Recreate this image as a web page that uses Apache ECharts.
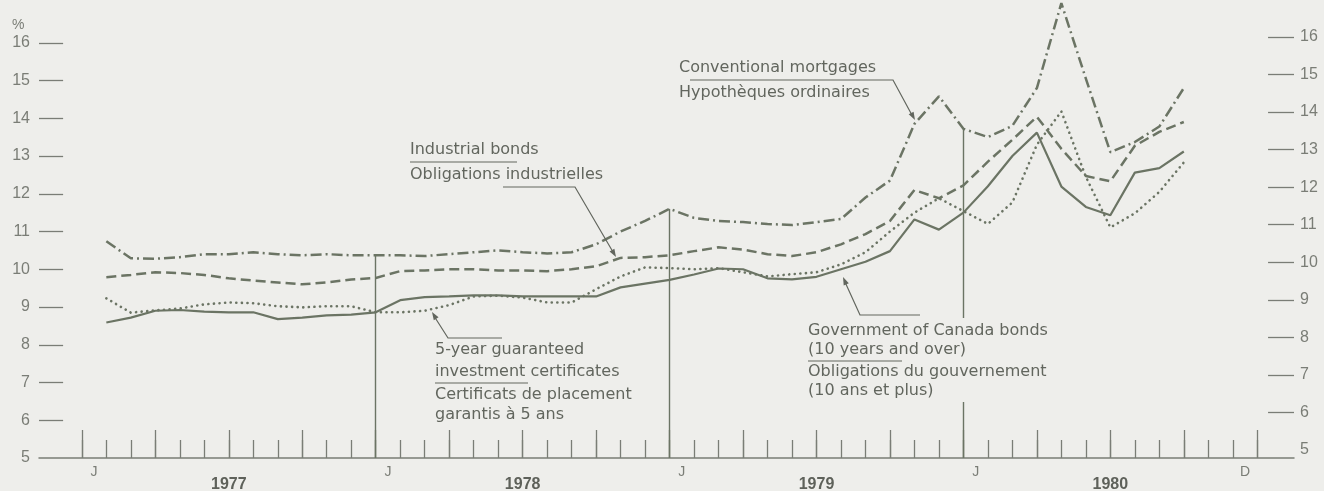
<!DOCTYPE html>
<html>
<head>
<meta charset="utf-8">
<script src="https://cdn.jsdelivr.net/npm/echarts@6/dist/echarts.min.js"></script>
<style>
html,body{margin:0;padding:0;background:#eeeeeb;}
#main{width:1324px;height:491px;}
</style>
</head>
<body>
<div id="main"></div>
<script>
// 数据：1977年1月 - 1980年9月，每月一个点（画在月末刻度上）
const years = ['1977', '1978', '1979', '1980'];
const monthLetters = ['J', 'J', 'J', 'J', 'D'];
const leftTicks = [5, 6, 7, 8, 9, 10, 11, 12, 13, 14, 15, 16];
const rightTicks = [5, 6, 7, 8, 9, 10, 11, 12, 13, 14, 15, 16];

const mortgages = [10.74, 10.29, 10.28, 10.32, 10.40, 10.40, 10.45, 10.40, 10.37, 10.40, 10.37, 10.37,
    10.37, 10.35, 10.40, 10.45, 10.50, 10.45, 10.42, 10.45, 10.66, 11.00, 11.28, 11.60,
    11.36, 11.28, 11.25, 11.20, 11.17, 11.25, 11.33, 11.90, 12.35, 13.85, 14.58, 13.72,
    13.50, 13.80, 14.80, 17.05, 15.05, 13.10, 13.37, 13.78, 14.80];
const industrial = [9.79, 9.85, 9.92, 9.90, 9.85, 9.76, 9.70, 9.65, 9.60, 9.65, 9.73, 9.77,
    9.95, 9.97, 10.00, 10.00, 9.97, 9.97, 9.95, 10.00, 10.08, 10.30, 10.32, 10.37,
    10.48, 10.58, 10.52, 10.40, 10.35, 10.45, 10.66, 10.93, 11.28, 12.10, 11.88, 12.22,
    12.85, 13.43, 14.04, 13.19, 12.47, 12.33, 13.27, 13.64, 13.90];
const govBonds = [8.59, 8.72, 8.90, 8.92, 8.88, 8.86, 8.86, 8.68, 8.72, 8.78, 8.80, 8.86,
    9.18, 9.26, 9.28, 9.31, 9.31, 9.28, 9.28, 9.28, 9.28, 9.52, 9.62, 9.72,
    9.86, 10.02, 10.00, 9.76, 9.73, 9.80, 10.00, 10.20, 10.48, 11.32, 11.05, 11.50,
    12.20, 13.00, 13.62, 12.19, 11.65, 11.43, 12.56, 12.68, 13.12];
const gics = [9.23, 8.85, 8.91, 8.96, 9.07, 9.12, 9.10, 9.02, 8.99, 9.02, 9.02, 8.86,
    8.86, 8.90, 9.05, 9.28, 9.30, 9.25, 9.12, 9.12, 9.47, 9.81, 10.05, 10.03,
    10.00, 10.03, 9.92, 9.81, 9.87, 9.92, 10.13, 10.45, 11.00, 11.50, 11.88, 11.54,
    11.20, 11.77, 13.30, 14.18, 12.45, 11.11, 11.48, 12.05, 12.83];

const bg = '#eeeeeb';
const lineColor = '#6b7464';
const textColor = '#62665e';
const axisColor = '#7a7d76';

var chartDom = document.getElementById('main');
var myChart = echarts.init(chartDom);

// 转成 [月, 值]
function toPairs(list){
    var out = [];
    for(var i=0;i<list.length;i++){
        out.push([i + 1, list[i]]);
    }
    return out;
}
// 刻度位置
var monthTicks = [];
for(var i=0;i<=48;i++) monthTicks.push(i);
var quarterTicks = [];
for(var i=0;i<=48;i+=3) quarterTicks.push(i);
var letterPos = [0.5, 12.5, 24.5, 36.5, 47.5];
var yearPos = [6, 18, 30, 42];

// 年份竖线：从底线到按揭利率曲线
var yearLines = [12, 24, 36].map(function(m){
    return [{coord: [m, 5]}, {coord: [m, mortgages[m - 1]]}];
});
// y轴短横刻度
function tickLines(values, x0, x1){
    return values.slice(1).map(function(v){
        return [{coord: [x0, v]}, {coord: [x1, v]}];
    });
}

// 注释文字和引线
var font = '16px "DejaVu Sans"';
function txt(x, y, s){
    return {type: 'text', x: x, y: y, z: 100,
        style: {text: s, font: font, fill: textColor, verticalAlign: 'middle'}};
}
function seg(points){
    return {type: 'polyline', z: 100, shape: {points: points},
        style: {stroke: textColor, lineWidth: 1.2, fill: null}};
}
function arrow(from, tip){
    var dx = tip[0] - from[0], dy = tip[1] - from[1];
    var len = Math.sqrt(dx*dx + dy*dy);
    dx /= len; dy /= len;
    var bx = tip[0] - dx*8, by = tip[1] - dy*8;
    return {type: 'polygon', z: 100, shape: {points: [tip, [bx - dy*2.8, by + dx*2.8], [bx + dy*2.8, by - dx*2.8]]},
        style: {fill: textColor}};
}

var graphics = [
    {type: 'text', x: 12, y: 25, z: 100, style: {text: '%', font: '14px "Liberation Sans"', fill: axisColor, verticalAlign: 'middle'}},
    // 按揭
    txt(679, 68, 'Conventional mortgages'),
    txt(679, 93, 'Hypothèques ordinaires'),
    seg([[690, 80], [893, 80], [913, 117]]),
    arrow([893, 80], [915, 120]),
    // 工业债券
    txt(410, 150, 'Industrial bonds'),
    txt(410, 175, 'Obligations industrielles'),
    seg([[410, 162], [517, 162]]),
    seg([[503, 187], [575, 187], [613, 252]]),
    arrow([575, 187], [616, 257]),
    // 5年期存单
    txt(435, 350, '5-year guaranteed'),
    txt(435, 372, 'investment certificates'),
    txt(435, 395, 'Certificats de placement'),
    txt(435, 415, 'garantis à 5 ans'),
    seg([[435, 383], [528, 383]]),
    seg([[502, 338], [448, 338], [434, 316]]),
    arrow([448, 338], [432, 312]),
    // 政府债券（遮住年份竖线）
    {type: 'rect', z: 90, shape: {x: 952, y: 318, width: 22, height: 84}, style: {fill: bg}},
    txt(808, 331, 'Government of Canada bonds'),
    txt(808, 350, '(10 years and over)'),
    txt(808, 372, 'Obligations du gouvernement'),
    txt(808, 391, '(10 ans et plus)'),
    seg([[808, 361], [902, 361]]),
    seg([[920, 315], [860, 315], [845, 282]]),
    arrow([860, 315], [843, 277])
];

var option = {
    backgroundColor: bg,
    animation: false,
    grid: {left: 39, right: 30, top: 5, bottom: 33, outerBoundsMode: 'none'},
    xAxis: [
        {
            type: 'value', min: -1.75, max: 49.5,
            axisLine: {show: true, lineStyle: {color: axisColor, width: 1.5}},
            axisTick: {show: true, inside: true, length: 18, customValues: monthTicks,
                lineStyle: {color: axisColor, width: 1.3}},
            axisLabel: {show: true, customValues: letterPos, margin: 7,
                color: axisColor, fontSize: 14, fontFamily: 'Liberation Sans',
                formatter: function(v){ return v > 47 ? monthLetters[4] : monthLetters[Math.floor(v/12)]; }},
            splitLine: {show: false}
        },
        {
            type: 'value', min: -1.75, max: 49.5, position: 'bottom',
            axisLine: {show: false},
            axisTick: {show: true, inside: true, length: 28, customValues: quarterTicks,
                lineStyle: {color: axisColor, width: 1.3}},
            axisLabel: {show: true, customValues: yearPos, margin: 19,
                color: '#5e615a', fontSize: 16, fontWeight: 'bold', fontFamily: 'Liberation Sans',
                formatter: function(v){ return years[Math.floor(v/12)]; }},
            splitLine: {show: false}
        }
    ],
    yAxis: [
        {
            type: 'value', min: 5, max: 17, position: 'left',
            axisLine: {show: false},
            axisTick: {show: false},
            axisLabel: {customValues: leftTicks, margin: 9, color: axisColor,
                fontSize: 16, fontFamily: 'Liberation Sans'},
            splitLine: {show: false}
        },
        {
            // 扫描稍有倾斜，右轴略高
            type: 'value', min: 4.787, max: 16.852, position: 'right',
            axisLine: {show: false},
            axisTick: {show: false},
            axisLabel: {customValues: rightTicks, margin: 6, color: axisColor,
                fontSize: 16, fontFamily: 'Liberation Sans'},
            splitLine: {show: false}
        }
    ],
    series: [
        {
            name: 'Conventional mortgages', type: 'line', data: toPairs(mortgages),
            showSymbol: false, clip: false,
            lineStyle: {color: lineColor, width: 2.5, type: [11, 4, 2, 4]},
            markLine: {
                silent: true, symbol: 'none', label: {show: false},
                lineStyle: {color: lineColor, width: 1.4, type: 'solid'},
                data: yearLines
            }
        },
        {
            name: 'Industrial bonds', type: 'line', data: toPairs(industrial),
            showSymbol: false,
            lineStyle: {color: lineColor, width: 2.5, type: [10, 5]}
        },
        {
            name: 'Government of Canada bonds', type: 'line', data: toPairs(govBonds),
            showSymbol: false,
            lineStyle: {color: lineColor, width: 2.2}
        },
        {
            name: '5-year guaranteed investment certificates', type: 'line', data: toPairs(gics),
            showSymbol: false,
            lineStyle: {color: lineColor, width: 2.6, type: [0.1, 5.5], cap: 'round'}
        },
        {
            // 左轴刻度
            type: 'line', data: [], yAxisIndex: 0, clip: false, silent: true,
            markLine: {
                silent: true, symbol: 'none', label: {show: false},
                lineStyle: {color: axisColor, width: 1.3, type: 'solid'},
                data: tickLines(leftTicks, -1.75, -0.765)
            }
        },
        {
            // 右轴刻度
            type: 'line', data: [], yAxisIndex: 1, clip: false, silent: true,
            markLine: {
                silent: true, symbol: 'none', label: {show: false},
                lineStyle: {color: axisColor, width: 1.3, type: 'solid'},
                data: tickLines(rightTicks, 48.44, 49.5)
            }
        }
    ],
    graphic: graphics
};
myChart.setOption(option);
</script>
</body>
</html>
